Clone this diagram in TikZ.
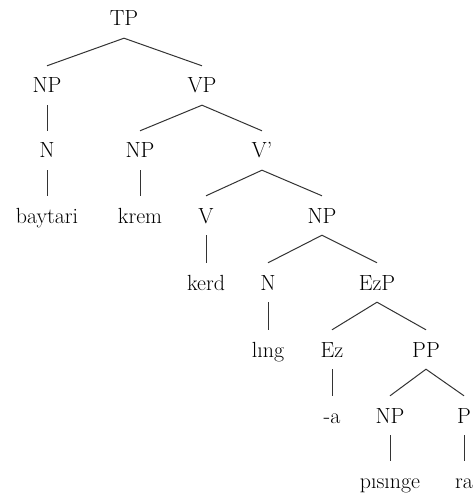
\documentclass[tikz,border=0pt]{standalone}
\usepackage{fontspec}
\usepackage{tikz}

\begin{document}
\begin{tikzpicture}[x=1bp,y=-1bp,
  cat/.style={anchor=base,font=\fontsize{22}{26}\selectfont,text height=15bp,
    text depth=0pt,inner xsep=0pt,inner ysep=12bp},
  branch/.style={line width=1bp,black!80}]
  \useasboundingbox (0,0) rectangle (473,493);
  % categories, level by level
  \node[cat] (TP) at (124,26) {TP};
  \node[cat] (NPsubj) at (47,93) {NP};
  \node[cat] (VP) at (202,93) {VP};
  \node[cat] (Nsubj) at (47,158) {N};
  \node[cat] (NPobj) at (140,158) {NP};
  \node[cat] (Vbar) at (262,158) {V'};
  \node[cat] (baytari) at (47,223) {baytari};
  \node[cat] (krem) at (140,223) {krem};
  \node[cat] (V) at (206,223) {V};
  \node[cat] (NPcomp) at (322,223) {NP};
  \node[cat] (kerd) at (206,290) {kerd};
  \node[cat] (Nhead) at (268,290) {N};
  \node[cat] (EzP) at (377,290) {EzP};
  \node[cat] (ling) at (268,357) {lıng};
  \node[cat] (Ez) at (332,357) {Ez};
  \node[cat] (PP) at (426,357) {PP};
  \node[cat] (ezafe) at (332,423) {-a};
  \node[cat] (NPpp) at (390,423) {NP};
  \node[cat] (P) at (464,423) {P};
  \node[cat] (pisinge) at (390,488) {pısınge};
  \node[cat] (ra) at (464,488) {ra};
  % branches
  \draw[branch] (NPsubj.north) -- (TP.south) -- (VP.north);
  \draw[branch] (NPsubj.south) -- (Nsubj.north);
  \draw[branch] (Nsubj.south) -- (baytari.north);
  \draw[branch] (NPobj.north) -- (VP.south) -- (Vbar.north);
  \draw[branch] (NPobj.south) -- (krem.north);
  \draw[branch] (V.north) -- (Vbar.south) -- (NPcomp.north);
  \draw[branch] (V.south) -- (kerd.north);
  \draw[branch] (Nhead.north) -- (NPcomp.south) -- (EzP.north);
  \draw[branch] (Nhead.south) -- (ling.north);
  \draw[branch] (Ez.north) -- (EzP.south) -- (PP.north);
  \draw[branch] (Ez.south) -- (ezafe.north);
  \draw[branch] (NPpp.north) -- (PP.south) -- (P.north);
  \draw[branch] (NPpp.south) -- (pisinge.north);
  \draw[branch] (P.south) -- (ra.north);
\end{tikzpicture}
\end{document}
